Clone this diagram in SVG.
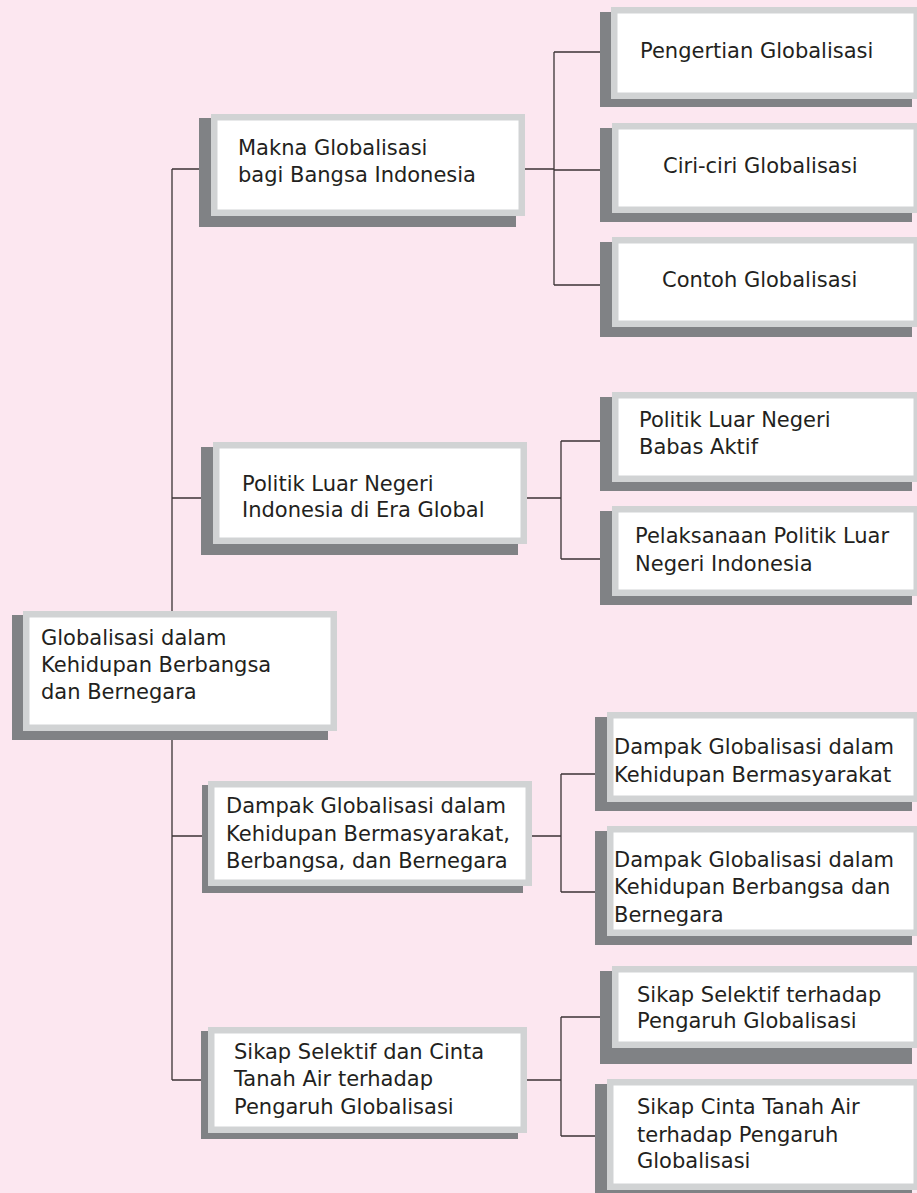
<svg xmlns="http://www.w3.org/2000/svg" width="917" height="1193" viewBox="0 0 917 1193">
<style>
.bg{fill:#fce7f0}
.sh{fill:#808285}
.bd{fill:#d1d3d4}
.in{fill:#ffffff}
.t{font-family:"DejaVu Sans","Liberation Sans",sans-serif;font-size:21px;fill:#231f20}
.c{stroke:#3b3335;stroke-width:1.3;fill:none}
</style>
<rect class="bg" x="0" y="0" width="917" height="1193"/>
<g id="connectors">
<path class="c" d="M172,169V1080M172,169H199M172,498H201M172,836H202M172,1080H201"/>
<path class="c" d="M525,169H554M554,52V285M554,52H600M554,170H600M554,285H600"/>
<path class="c" d="M527,498H561M561,441V559M561,441H600M561,559H600"/>
<path class="c" d="M532,836H561M561,774V892M561,774H595M561,892H595"/>
<path class="c" d="M527,1080H561M561,1017V1136M561,1017H600M561,1136H600"/>
</g>
<g id="n-main">
<rect class="sh" x="12" y="615" width="316" height="125"/>
<rect class="bd" x="23" y="611" width="314" height="120"/>
<rect class="in" x="29.5" y="617.5" width="301" height="107"/>
<text class="t"><tspan x="41" y="645">Globalisasi dalam</tspan><tspan x="41" y="672">Kehidupan Berbangsa</tspan><tspan x="41" y="699">dan Bernegara</tspan></text>
</g>
<g id="n-makna">
<rect class="sh" x="199" y="118" width="317" height="109"/>
<rect class="bd" x="211" y="114" width="314" height="102"/>
<rect class="in" x="217.5" y="120.5" width="301" height="89"/>
<text class="t"><tspan x="238" y="155">Makna Globalisasi</tspan><tspan x="238" y="182">bagi Bangsa Indonesia</tspan></text>
</g>
<g id="n-politik">
<rect class="sh" x="201" y="447" width="317" height="108"/>
<rect class="bd" x="213" y="442" width="314" height="102"/>
<rect class="in" x="219.5" y="448.5" width="301" height="89"/>
<text class="t"><tspan x="242" y="491">Politik Luar Negeri</tspan><tspan x="242" y="517">Indonesia di Era Global</tspan></text>
</g>
<g id="n-dampak">
<rect class="sh" x="202" y="785" width="321" height="108"/>
<rect class="bd" x="208" y="781" width="324" height="105"/>
<rect class="in" x="214.5" y="787.5" width="311" height="92"/>
<text class="t"><tspan x="226" y="813">Dampak Globalisasi dalam</tspan><tspan x="226" y="841">Kehidupan Bermasyarakat,</tspan><tspan x="226" y="868">Berbangsa, dan Bernegara</tspan></text>
</g>
<g id="n-sikap">
<rect class="sh" x="201" y="1031" width="317" height="108"/>
<rect class="bd" x="208" y="1027" width="319" height="106"/>
<rect class="in" x="214.5" y="1033.5" width="306" height="93"/>
<text class="t"><tspan x="234" y="1059">Sikap Selektif dan Cinta</tspan><tspan x="234" y="1086">Tanah Air terhadap</tspan><tspan x="234" y="1114">Pengaruh Globalisasi</tspan></text>
</g>
<g id="n-pengertian">
<rect class="sh" x="600" y="12" width="312" height="95"/>
<rect class="bd" x="611" y="7" width="309" height="92"/>
<rect class="in" x="617.5" y="13.5" width="296" height="79"/>
<text class="t" x="640" y="58">Pengertian Globalisasi</text>
</g>
<g id="n-ciri">
<rect class="sh" x="600" y="128" width="312" height="94"/>
<rect class="bd" x="612" y="123" width="308" height="90"/>
<rect class="in" x="618.5" y="129.5" width="295" height="77"/>
<text class="t" x="663" y="173">Ciri-ciri Globalisasi</text>
</g>
<g id="n-contoh">
<rect class="sh" x="600" y="242" width="312" height="95"/>
<rect class="bd" x="612" y="237" width="308" height="90"/>
<rect class="in" x="618.5" y="243.5" width="295" height="77"/>
<text class="t" x="662" y="287">Contoh Globalisasi</text>
</g>
<g id="n-babas">
<rect class="sh" x="600" y="397" width="312" height="94"/>
<rect class="bd" x="612" y="392" width="308" height="90"/>
<rect class="in" x="618.5" y="398.5" width="295" height="77"/>
<text class="t"><tspan x="639" y="427">Politik Luar Negeri</tspan><tspan x="639" y="454">Babas Aktif</tspan></text>
</g>
<g id="n-pelaksanaan">
<rect class="sh" x="600" y="511" width="312" height="94"/>
<rect class="bd" x="612" y="506" width="308" height="90"/>
<rect class="in" x="618.5" y="512.5" width="295" height="77"/>
<text class="t"><tspan x="635" y="543">Pelaksanaan Politik Luar</tspan><tspan x="635" y="571">Negeri Indonesia</tspan></text>
</g>
<g id="n-bermasyarakat">
<rect class="sh" x="595" y="717" width="317" height="94"/>
<rect class="bd" x="607" y="712" width="313" height="90"/>
<rect class="in" x="613.5" y="718.5" width="300" height="77"/>
<text class="t"><tspan x="614" y="754">Dampak Globalisasi dalam</tspan><tspan x="614" y="782">Kehidupan Bermasyarakat</tspan></text>
</g>
<g id="n-berbangsa">
<rect class="sh" x="595" y="831" width="317" height="114"/>
<rect class="bd" x="607" y="826" width="313" height="110"/>
<rect class="in" x="613.5" y="832.5" width="300" height="97"/>
<text class="t"><tspan x="614" y="867">Dampak Globalisasi dalam</tspan><tspan x="614" y="894">Kehidupan Berbangsa dan</tspan><tspan x="614" y="922">Bernegara</tspan></text>
</g>
<g id="n-selektif">
<rect class="sh" x="600" y="971" width="312" height="93"/>
<rect class="bd" x="612" y="966" width="308" height="82"/>
<rect class="in" x="618.5" y="972.5" width="295" height="69"/>
<text class="t"><tspan x="637" y="1002">Sikap Selektif terhadap</tspan><tspan x="637" y="1028">Pengaruh Globalisasi</tspan></text>
</g>
<g id="n-cinta">
<rect class="sh" x="595" y="1084" width="317" height="115"/>
<rect class="bd" x="607" y="1079" width="313" height="111"/>
<rect class="in" x="613.5" y="1085.5" width="300" height="98"/>
<text class="t"><tspan x="637" y="1114">Sikap Cinta Tanah Air</tspan><tspan x="637" y="1142">terhadap Pengaruh</tspan><tspan x="637" y="1168">Globalisasi</tspan></text>
</g>
</svg>
